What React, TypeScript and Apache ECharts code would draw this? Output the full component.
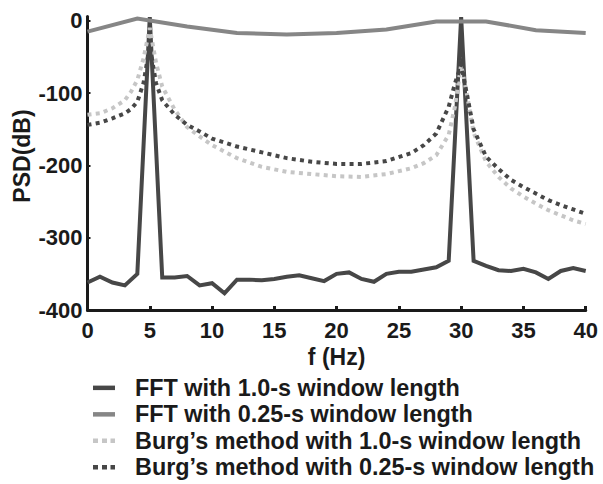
import React, { useEffect, useRef } from "react";
import * as echarts from "echarts";

// FFT with 1.0-s window (1 Hz resolution)
const fft1Freq = [0,1,2,3,4,5,6,7,8,9,10,11,12,13,14,15,16,17,18,19,20,21,22,23,24,25,26,27,28,29,30,31,32,33,34,35,36,37,38,39,40];
const fft1Psd = [-362,-354,-362,-366,-350,5,-355,-355,-353,-366,-363,-377,-358,-358,-359,-357,-354,-352,-356,-360,-350,-348,-357,-361,-350,-347,-347,-344,-341,-332,5,-332,-339,-345,-346,-343,-348,-357,-346,-342,-346];

// FFT with 0.25-s window (4 Hz resolution)
const fft025Freq = [0,4,8,12,16,20,24,28,32,36,40];
const fft025Psd = [-15,3,-8,-17,-19,-17,-12,-1,-1,-13,-17];

// Burg's method
const burgFreq = [0,1,2,3,3.5,4,4.5,5,5.5,6,7,8,9,10,12,14,16,18,20,22,24,26,27,28,29,29.5,30,30.5,31,32,33,34,35,36,37,38,39,40];
const burg1Psd = [-130,-128,-121,-110,-98,-82,-52,-10,-58,-91,-123,-147,-160,-172,-190,-202,-209,-212,-215,-216,-212,-204,-197,-186,-158,-119,-61,-105,-155,-195,-216,-232,-243,-253,-262,-269,-276,-281];
const burg025Psd = [-144,-141,-135,-128,-122,-112,-86,-35,-86,-110,-130,-144,-153,-163,-174,-182,-190,-195,-198,-198,-194,-183,-172,-156,-119,-87,-61,-105,-150,-188,-205,-220,-230,-239,-248,-255,-261,-267];

const seriesNames = [
  "FFT with 1.0-s window length",
  "FFT with 0.25-s window length",
  "Burg\u2019s method with 1.0-s window length",
  "Burg\u2019s method with 0.25-s window length",
];

const yTicks = [-400, -300, -200, -100, 0];

const FONT = "'Liberation Sans', Arial, Helvetica, sans-serif";
const TXT = "#1a1a1a";
const SOLID_ICON = "path://M0,0h22v4.5h-22z";
const DOT_ICON = "path://M0,0h5v4.5h-5zM9,0h5v4.5h-5zM17.5,0h4.5v4.5h-4.5z";

const zip = (xs: number[], ys: number[]) => xs.map((x, i) => [x, ys[i]]);

export default function App() {
  const ref = useRef<HTMLDivElement>(null);
  useEffect(() => {
    if (!ref.current) return;
    const chart = echarts.init(ref.current, undefined, { renderer: "svg" });
    const mkLine = (name: string, data: number[][], color: string, dotted: boolean) => ({
      name,
      type: "line",
      data,
      symbol: "none",
      clip: false,
      lineStyle: {
        color,
        width: 4,
        type: dotted ? [4, 4.3] : "solid",
        cap: "butt",
        join: "miter",
      },
      itemStyle: { color },
    });
    chart.setOption({
      animation: false,
      backgroundColor: "#ffffff",
      grid: { left: 87.5, right: 17.3, top: 16.4, bottom: 174 },
      xAxis: {
        type: "value",
        min: 0,
        max: 40,
        interval: 5,
        name: "f (Hz)",
        nameLocation: "middle",
        nameGap: 33,
        nameTextStyle: { fontFamily: FONT, fontWeight: "bold", fontSize: 23, color: TXT },
        axisLine: { onZero: false, lineStyle: { color: TXT, width: 3 } },
        axisTick: { inside: true, length: 4, lineStyle: { color: TXT, width: 3 } },
        axisLabel: { fontFamily: FONT, fontWeight: "bold", fontSize: 22, color: TXT, margin: 9 },
        splitLine: { show: false },
      },
      yAxis: {
        type: "value",
        min: yTicks[0],
        max: 6,
        interval: 100,
        axisLine: { show: true, onZero: false, lineStyle: { color: TXT, width: 3 } },
        axisTick: { show: true, inside: true, length: 3, lineStyle: { color: TXT, width: 2 } },
        axisLabel: {
          fontFamily: FONT, fontWeight: "bold", fontSize: 22, color: TXT, margin: 5,
          showMaxLabel: false,
          formatter: (v: number) => (yTicks.indexOf(v) >= 0 ? String(v) : ""),
        },
        splitLine: { show: false },
      },
      legend: {
        orient: "vertical",
        left: 93,
        top: 374.6,
        padding: 0,
        itemWidth: 22,
        itemHeight: 4.5,
        itemGap: 0,
        data: [
          { name: seriesNames[0], icon: SOLID_ICON },
          { name: seriesNames[1], icon: SOLID_ICON },
          { name: seriesNames[2], icon: DOT_ICON },
          { name: seriesNames[3], icon: DOT_ICON },
        ],
        textStyle: {
          fontFamily: FONT, fontWeight: "bold", fontSize: 23.4, color: TXT,
          lineHeight: 26.5, padding: [0, 0, 0, 15],
        },
      },
      graphic: [
        {
          type: "text",
          x: 22,
          y: 156,
          rotation: Math.PI / 2,
          style: {
            text: "PSD(dB)",
            fontFamily: FONT,
            fontWeight: "bold",
            fontSize: 23,
            fill: TXT,
            align: "center",
            verticalAlign: "middle",
          },
        },
      ],
      series: [
        mkLine(seriesNames[0], zip(fft1Freq, fft1Psd), "#474747", false),
        mkLine(seriesNames[1], zip(fft025Freq, fft025Psd), "#868686", false),
        mkLine(seriesNames[2], zip(burgFreq, burg1Psd), "#c6c6c6", true),
        mkLine(seriesNames[3], zip(burgFreq, burg025Psd), "#474747", true),
      ],
    });
    return () => chart.dispose();
  }, []);
  return (
    <div
      ref={ref}
      style={{ position: "absolute", left: 0, top: 0, width: 603, height: 484 }}
    />
  );
}
